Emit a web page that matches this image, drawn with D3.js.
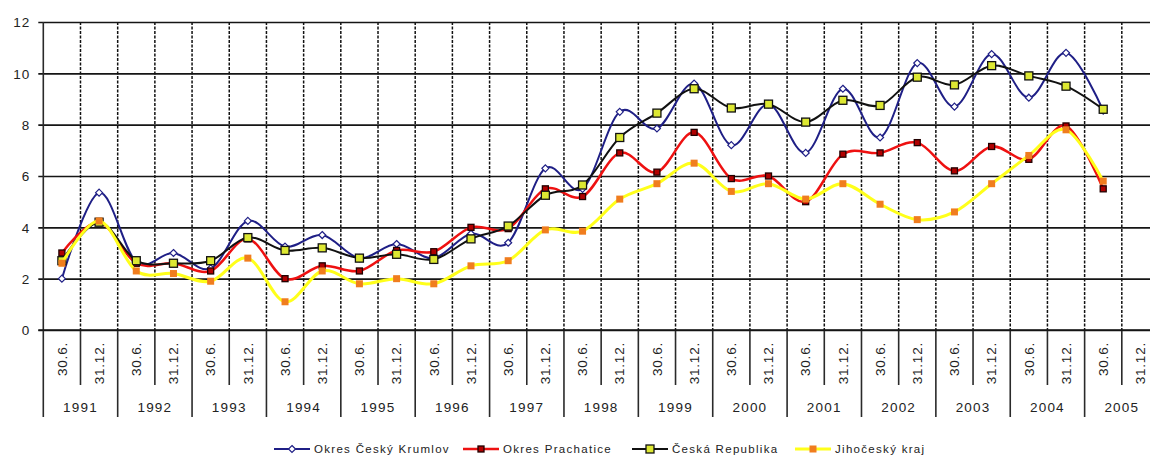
<!DOCTYPE html>
<html>
<head>
<meta charset="utf-8">
<script src="https://cdn.jsdelivr.net/npm/d3@7/dist/d3.min.js"></script>
<style>
  html, body { margin: 0; padding: 0; background: #fff; }
  svg { display: block; font-family: "Liberation Sans", Arial, sans-serif; }
</style>
</head>
<body>
<svg id="chart" width="1150" height="456"></svg>
<script>
// Half-year periods and years on the category axis
const years = ["1991","1992","1993","1994","1995","1996","1997","1998","1999","2000","2001","2002","2003","2004","2005"];
const halfYears = ["30.6.", "31.12."];
const yTicks = [0, 2, 4, 6, 8, 10, 12];

// Series values, one per half-year from 30.6.1991 to 30.6.2005
const krumlov    = [2.0, 5.35, 2.65, 3.0, 2.4, 4.25, 3.25, 3.7, 2.8, 3.35, 2.8, 3.75, 3.4, 6.3, 5.5, 8.5, 7.85, 9.6, 7.2, 8.8, 6.9, 9.4, 7.5, 10.4, 8.7, 10.75, 9.05, 10.8, 8.55];
const prachatice = [3.0, 4.2, 2.6, 2.6, 2.3, 3.55, 2.0, 2.5, 2.3, 3.1, 3.05, 4.0, 3.95, 5.5, 5.2, 6.9, 6.15, 7.7, 5.9, 6.0, 5.0, 6.85, 6.9, 7.3, 6.2, 7.15, 6.65, 7.95, 5.5];
const republika  = [2.7, 4.2, 2.7, 2.6, 2.7, 3.6, 3.1, 3.2, 2.8, 2.95, 2.75, 3.55, 4.05, 5.25, 5.65, 7.5, 8.45, 9.4, 8.65, 8.8, 8.1, 8.95, 8.75, 9.85, 9.55, 10.3, 9.9, 9.5, 8.6];
const jihocesky  = [2.6, 4.25, 2.3, 2.2, 1.9, 2.8, 1.1, 2.3, 1.8, 2.0, 1.8, 2.5, 2.7, 3.9, 3.85, 5.1, 5.7, 6.5, 5.4, 5.7, 5.1, 5.7, 4.9, 4.3, 4.6, 5.7, 6.8, 7.8, 5.8];

const seriesNames = ["Okres Český Krumlov", "Okres Prachatice", "Česká Republika", "Jihočeský kraj"];

// Build the category list (two half-years per year)
const categories = [];
years.forEach(yr => halfYears.forEach(h => categories.push({ key: h + yr, label: h, year: yr })));

const series = [
  { name: seriesNames[0], values: krumlov,    line: "#1f1f86", lw: 2,   marker: "diamond", fill: "#ffffff", stroke: "#1f1f86", size: 7 },
  { name: seriesNames[1], values: prachatice, line: "#ee1111", lw: 2.5, marker: "square",  fill: "#b00000", stroke: "#220000", size: 6 },
  { name: seriesNames[2], values: republika,  line: "#111111", lw: 2,   marker: "square",  fill: "#dde832", stroke: "#111111", size: 8 },
  { name: seriesNames[3], values: jihocesky,  line: "#ffff1a", lw: 3,   marker: "square",  fill: "#f07d1e", stroke: "none",    size: 7 }
];

const svg = d3.select("#chart");
const plotTop = 22, plotBottom = 330, plotLeft = 43.3, plotRight = 1159;

const x = d3.scaleBand().domain(categories.map(d => d.key)).range([plotLeft, plotRight]).padding(0);
const y = d3.scaleLinear().domain([0, 12]).range([plotBottom, plotTop]);
const bw = x.bandwidth();

const grid = svg.append("g");

// Horizontal grid lines with the value axis
const yAxis = d3.axisLeft(y).tickValues(yTicks).tickSize(-(1150 - plotLeft)).tickPadding(0).tickFormat(d3.format("d"));
const yG = svg.append("g").attr("transform", `translate(${plotLeft},0)`).call(yAxis);
yG.select(".domain").remove();
yG.selectAll(".tick line").attr("stroke", "#151515").attr("stroke-width", 1.6).attr("x1", -5);
yG.selectAll(".tick text")
  .attr("x", -13).attr("dy", "0.35em")
  .attr("fill", "#222").style("font-size", "13.5px").style("letter-spacing", "1px")
  .attr("text-anchor", "end");

// Dashed vertical grid lines at every category boundary
const boundaries = categories.map(d => x(d.key)).slice(1).concat([plotRight]);
grid.selectAll("line.vgrid").data(boundaries).join("line")
  .attr("x1", d => d).attr("x2", d => d)
  .attr("y1", plotTop).attr("y2", plotBottom)
  .attr("stroke", "#111").attr("stroke-width", 1.5)
  .attr("stroke-dasharray", "3,1.5");

// Category axis: separators below the baseline
const axisG = svg.append("g");
categories.forEach((c, i) => {
  const xb = x(c.key);
  const isYear = i % 2 === 0;
  axisG.append("line")
    .attr("x1", xb).attr("x2", xb)
    .attr("y1", i === 0 ? plotTop : plotBottom).attr("y2", isYear ? 417 : 385)
    .attr("stroke", "#2a2a2a").attr("stroke-width", 1.6);
});
axisG.append("line").attr("x1", plotRight).attr("x2", plotRight).attr("y1", plotBottom).attr("y2", 417)
  .attr("stroke", "#2a2a2a").attr("stroke-width", 1.6);
axisG.append("line").attr("x1", plotLeft - 5).attr("x2", 1150).attr("y1", plotBottom).attr("y2", plotBottom)
  .attr("stroke", "#151515").attr("stroke-width", 1.7);

// Rotated half-year labels
axisG.selectAll("text.half").data(categories).join("text")
  .attr("class", "half")
  .attr("transform", d => `translate(${x(d.key) + bw / 2},342) rotate(-90)`)
  .attr("dy", "0.35em")
  .attr("text-anchor", "end")
  .attr("fill", "#222")
  .style("font-size", "13.5px").style("letter-spacing", "0.8px")
  .text(d => d.label);

// Year labels centred under their two half-years
axisG.selectAll("text.year").data(years).join("text")
  .attr("class", "year")
  .attr("x", d => x(halfYears[0] + d) + bw)
  .attr("y", 407).attr("dy", "0.35em")
  .attr("text-anchor", "middle")
  .attr("fill", "#222")
  .style("font-size", "13.5px").style("letter-spacing", "1.2px")
  .text(d => d);

// Series lines and markers
const cx = i => x(categories[i].key) + bw / 2;
const line = d3.line().x((d, i) => cx(i)).y(d => y(d)).curve(d3.curveCardinal.tension(0));

function drawMarker(g, s, px, py) {
  if (s.marker === "diamond") {
    const r = s.size / 2;
    g.append("path")
      .attr("d", `M${px},${py - r}L${px + r},${py}L${px},${py + r}L${px - r},${py}Z`)
      .attr("fill", s.fill).attr("stroke", s.stroke).attr("stroke-width", 1.2);
  } else {
    g.append("rect")
      .attr("x", px - s.size / 2).attr("y", py - s.size / 2)
      .attr("width", s.size).attr("height", s.size)
      .attr("fill", s.fill).attr("stroke", s.stroke).attr("stroke-width", s.stroke === "none" ? 0 : 1.3);
  }
}

const plotG = svg.append("g");
series.forEach(s => {
  const g = plotG.append("g");
  g.append("path").datum(s.values)
    .attr("d", line).attr("fill", "none")
    .attr("stroke", s.line).attr("stroke-width", s.lw)
    .attr("stroke-linejoin", "round");
  s.values.forEach((v, i) => drawMarker(g, s, cx(i), y(v)));
});

// Legend
const legendX = [274, 463, 632, 795];
const legendY = 449;
const legG = svg.append("g");
series.forEach((s, k) => {
  const lx = legendX[k];
  legG.append("line").attr("x1", lx).attr("x2", lx + 36).attr("y1", legendY).attr("y2", legendY)
    .attr("stroke", s.line).attr("stroke-width", s.lw);
  drawMarker(legG, s, lx + 18, legendY);
  legG.append("text").attr("x", lx + 40).attr("y", legendY).attr("dy", "0.35em")
    .attr("fill", "#222").style("font-size", "11.5px").style("letter-spacing", "1.3px")
    .text(s.name);
});
</script>
</body>
</html>
